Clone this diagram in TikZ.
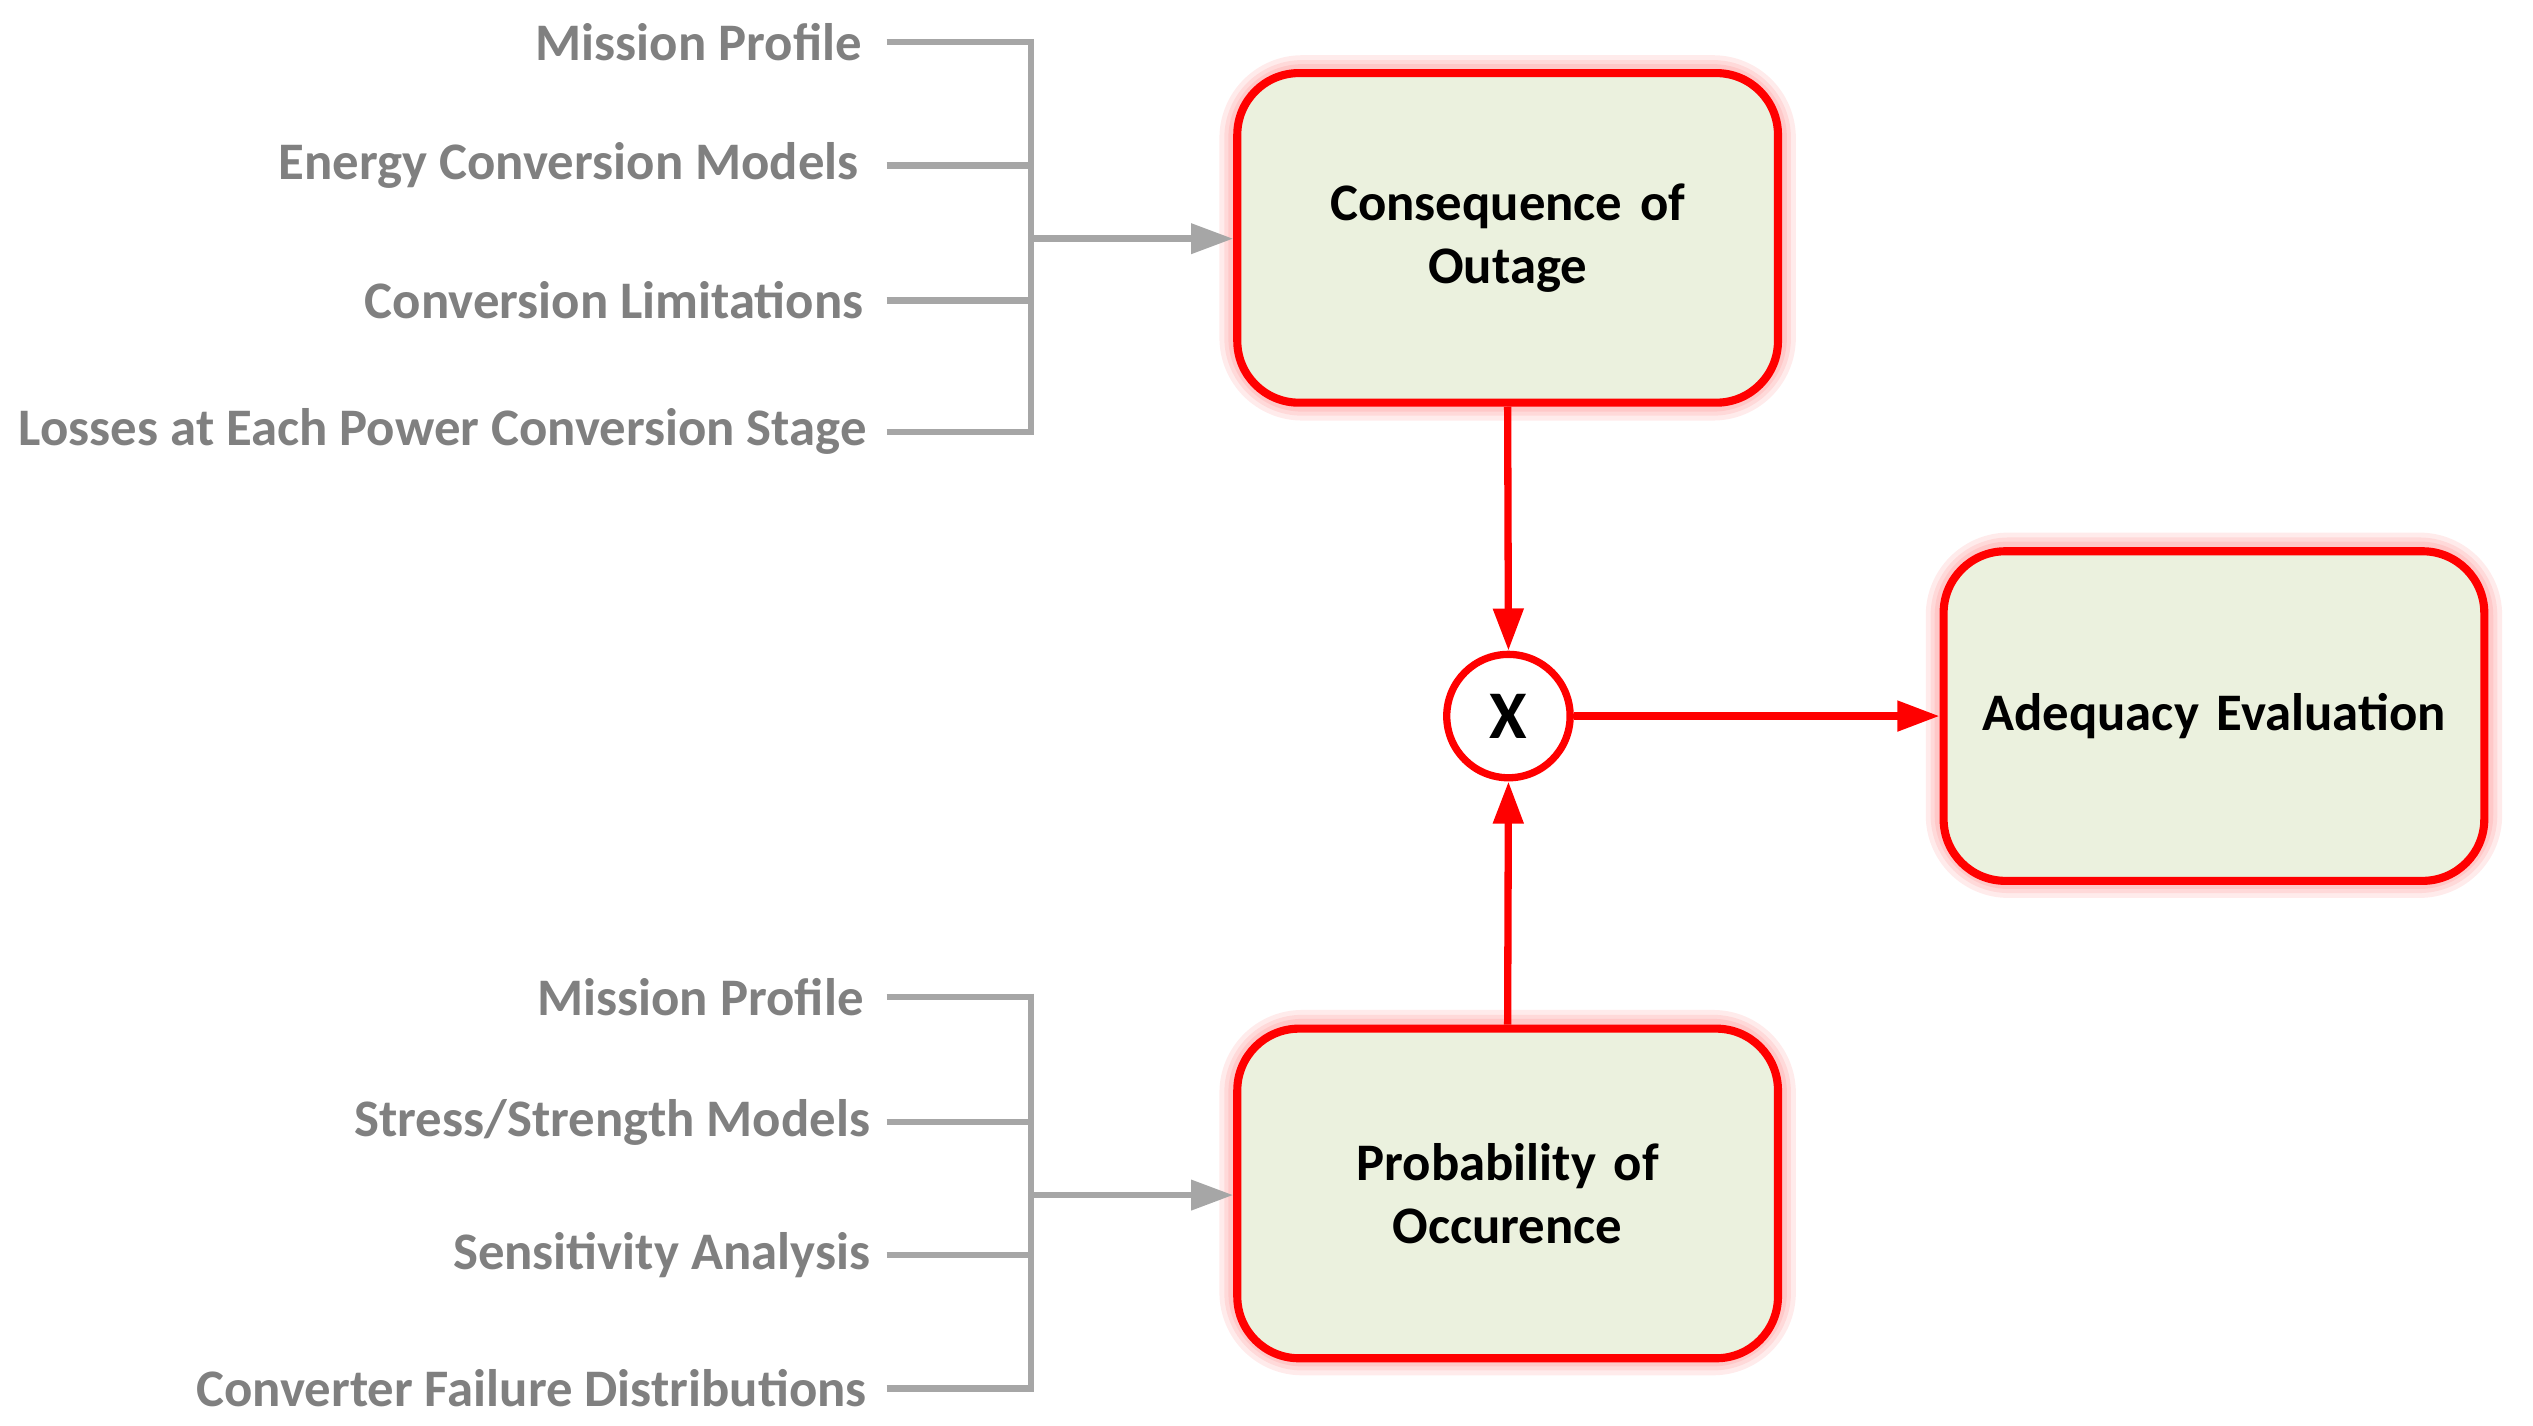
\documentclass[tikz,border=0pt]{standalone}
\usepackage{fontspec}
\setmainfont{Carlito}
\usetikzlibrary{arrows.meta}
\definecolor{boxfill}{RGB}{235,241,222}
\definecolor{lab}{RGB}{128,128,128}
\definecolor{lin}{RGB}{166,166,166}
\definecolor{rd}{RGB}{255,0,0}
\begin{document}
\begin{tikzpicture}[x=1pt,y=-1pt,
  font=\fontsize{32.5}{39}\selectfont\bfseries,
  glow/.style={draw=rd,line width=#1,opacity=0.08,rounded corners=40pt},
  box/.style={draw=rd,line width=5pt,fill=boxfill,rounded corners=38pt,minimum width=333pt,minimum height=203pt,align=center,text width=320pt},
  lbl/.style={text=lab,anchor=east,inner sep=0pt},
  gl/.style={draw=lin,line width=4pt},
  ga/.style={gl,-{Triangle[length=26pt,width=18pt]}},
  ra/.style={draw=rd,line width=4.5pt,-{Triangle[length=26pt,width=18pt]}}]
\useasboundingbox (0,0) rectangle (1560,878);
% glows
\foreach \x/\y in {762/45,762/633,1197/339}{
  \foreach \w in {22pt,16pt,11pt}{\draw[glow=\w] (\x,\y) rectangle ++(333,203);}}
\node[box] (cons) at (928.5,146.5) {Consequence of\\Outage};
\node[box] (prob) at (928.5,735) {Probability of\\Occurence};
\node[box] (adeq) at (1363.5,441) {Adequacy Evaluation};
\node[circle,draw=rd,line width=4.5pt,fill=white,minimum size=76pt,inner sep=0pt,font=\fontsize{42}{46}\selectfont\bfseries] (x) at (929,441) {X};
\draw[ra] (cons.south) -- (x.north);
\draw[ra] (prob.north) -- (x.south);
\draw[ra] (x.east) -- (adeq.west);
% top labels
\node[lbl] (t1) at (531,26) {Mission Profile};
\node[lbl] (t2) at (529,102) {Energy Conversion Models};
\node[lbl] (t3) at (532,185) {Conversion Limitations};
\node[lbl] (t4) at (534,266) {Losses at Each Power Conversion Stage};
\coordinate (tj) at (635,147);
\foreach \i/\y in {1/26,2/102,3/185,4/266}{\draw[gl] (546,\y) -- (635,\y);}
\draw[gl] (635,24) -- (635,268);
\draw[ga] (tj) -- (cons.west|-tj);
% bottom labels
\node[lbl] (b1) at (532,614) {Mission Profile};
\node[lbl] (b2) at (536,691) {Stress/Strength Models};
\node[lbl] (b3) at (536,773) {Sensitivity Analysis};
\node[lbl] (b4) at (534,855) {Converter Failure Distributions};
\coordinate (bj) at (635,736);
\foreach \i/\y in {1/614,2/691,3/773,4/855}{\draw[gl] (546,\y) -- (635,\y);}
\draw[gl] (635,612) -- (635,857);
\draw[ga] (bj) -- (prob.west|-bj);
\end{tikzpicture}
\end{document}
